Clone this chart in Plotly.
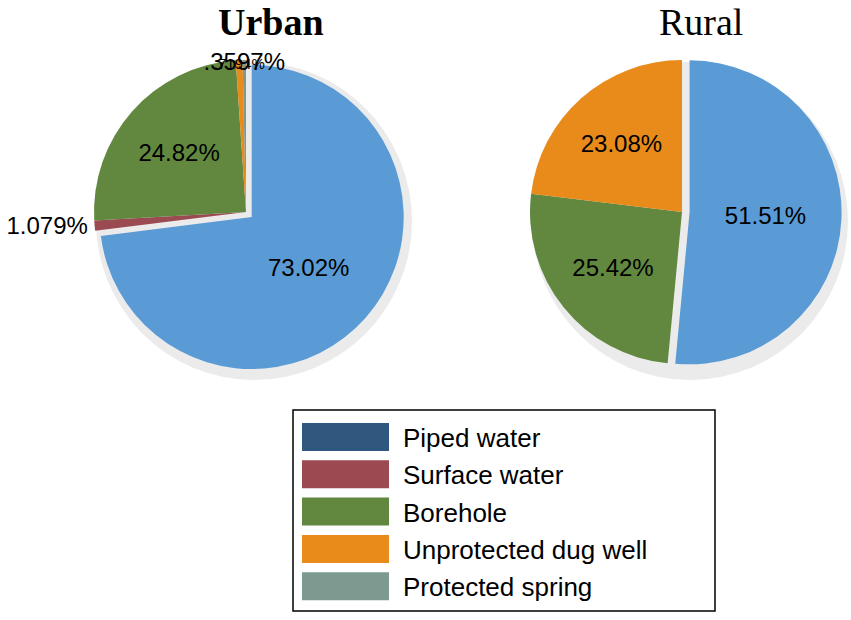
import plotly.graph_objects as go

# ----------------------------------------------------------------------------------------------------------------------
#  DATA
# ----------------------------------------------------------------------------------------------------------------------
sources      = ["Piped water", "Surface water", "Borehole", "Unprotected dug well", "Protected spring"]
urban_values = [73.02, 1.079, 24.82, 0.7194, 0.3597]
rural_values = [51.51, 0.0, 25.42, 23.08, 0.0]

slice_colors  = ["#5b9bd5", "#9b4a52", "#62883f", "#e88b1a", "#7d9a90"]
legend_colors = ["#30577d", "#9b4a52", "#62883f", "#e88b1a", "#7d9a90"]


def fmt(v):
    # 4 significant digits, SPSS style (no leading zero)
    s = "%.4g" % v
    if s.startswith("0."):
        s = s[1:]
    return s + "%"


W, H = 851, 620
R = 152          # pie radius in px
PULL = 0.05
FONT = "Liberation Sans, Arial"
SERIF = "Liberation Serif, Times New Roman"


def px(x):
    return x / W


def py(y):
    return 1 - y / H


def pie_domain(cx, cy):
    half = R * (1 + PULL)
    return dict(x=[px(cx - half), px(cx + half)], y=[py(cy + half), py(cy - half)])


fig = go.Figure()

urban_pos = ["inside", "outside", "inside", "inside", "inside"]
fig.add_trace(go.Pie(
    labels=sources, values=urban_values, sort=False, direction="clockwise", rotation=0,
    pull=[PULL, 0, 0, 0, 0],
    marker=dict(colors=slice_colors, line=dict(width=0)),
    text=[fmt(v) for v in urban_values], textinfo="text", textposition=urban_pos,
    insidetextorientation="horizontal", automargin=False,
    textfont=dict(family=FONT, size=[26, 24, 26, 15, 26], color="black"),
    domain=pie_domain(246, 212), showlegend=False, hoverinfo="label+percent",
))

rural_text = [fmt(v) if v > 0 else "" for v in rural_values]
fig.add_trace(go.Pie(
    labels=sources, values=rural_values, sort=False, direction="clockwise", rotation=0,
    pull=[PULL, 0, 0, 0, 0],
    marker=dict(colors=slice_colors, line=dict(width=0)),
    text=rural_text, textinfo="text", textposition="inside",
    insidetextorientation="horizontal", automargin=False,
    textfont=dict(family=FONT, size=26, color="black"),
    domain=pie_domain(682, 212), showlegend=False, hoverinfo="label+percent",
))

# grey shadow behind the pies
shapes = []
for cx, cy in [(246, 212), (682, 212)]:
    shapes.append(dict(type="circle", xref="paper", yref="paper", layer="below",
                       x0=px(cx - R + 2), x1=px(cx + R + 14),
                       y0=py(cy + R + 16), y1=py(cy - R + 2),
                       fillcolor="#ebebeb", line=dict(width=0)))

# legend box drawn by hand (swatches differ from slice colours)
shapes.append(dict(type="rect", xref="paper", yref="paper",
                   x0=px(293), x1=px(715), y0=py(611), y1=py(410),
                   line=dict(color="black", width=1.5), fillcolor="white"))
annotations = []
for i, (name, col) in enumerate(zip(sources, legend_colors)):
    yc = 437 + i * 37.3
    shapes.append(dict(type="rect", xref="paper", yref="paper",
                       x0=px(302), x1=px(389), y0=py(yc + 14), y1=py(yc - 14),
                       line=dict(width=0), fillcolor=col))
    annotations.append(dict(text=name, x=px(401), y=py(yc + 1), xref="paper", yref="paper",
                            xanchor="left", yanchor="middle", showarrow=False,
                            font=dict(family=FONT, size=26, color="black")))

annotations.append(dict(text="<b>Urban</b>", x=px(271), y=py(22), xref="paper", yref="paper",
                        xanchor="center", yanchor="middle", showarrow=False,
                        font=dict(family=SERIF, size=38, color="black")))
annotations.append(dict(text="Rural", x=px(701), y=py(22), xref="paper", yref="paper",
                        xanchor="center", yanchor="middle", showarrow=False,
                        font=dict(family=SERIF, size=38, color="black")))

fig.update_layout(
    width=W, height=H,
    margin=dict(l=0, r=0, t=0, b=0, autoexpand=False),
    paper_bgcolor="white", plot_bgcolor="white",
    shapes=shapes, annotations=annotations,
    uniformtext=dict(minsize=15, mode="show"),
)

# drop the default 8px body margin so the figure fills the window
fig.write_html("out.html", config={"displayModeBar": False},
               post_script="document.body.style.margin='0';")
